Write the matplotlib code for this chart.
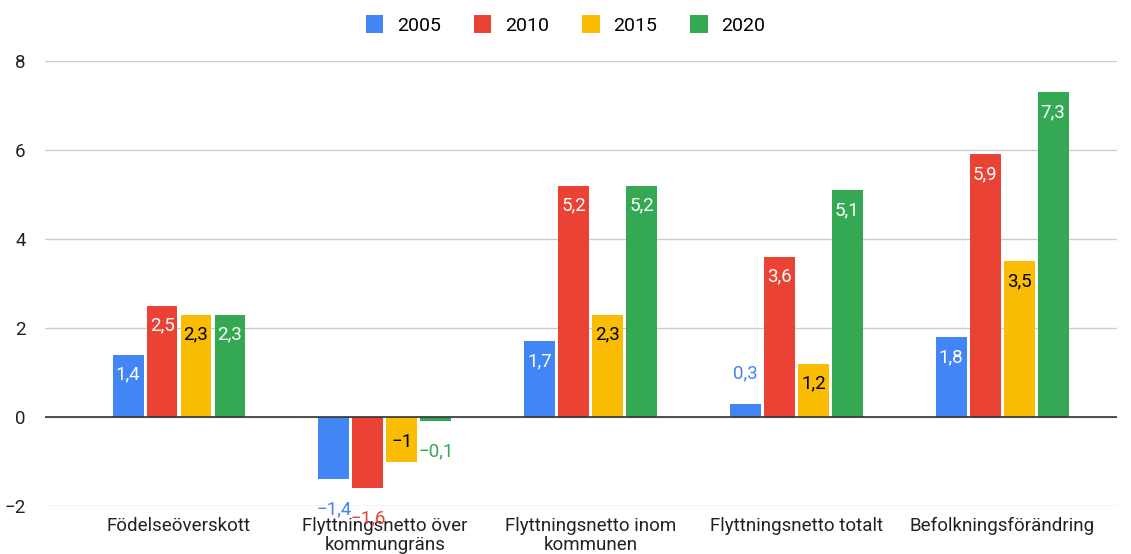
import matplotlib.pyplot as plt
import numpy as np

plt.rcParams['font.family'] = ['Roboto', 'DejaVu Sans']

categories = ["Födelseöverskott", "Flyttningsnetto över\nkommungräns",
              "Flyttningsnetto inom\nkommunen", "Flyttningsnetto totalt",
              "Befolkningsförändring"]
years = ["2005", "2010", "2015", "2020"]
v2005 = [1.4, -1.4, 1.7, 0.3, 1.8]
v2010 = [2.5, -1.6, 5.2, 3.6, 5.9]
v2015 = [2.3, -1.0, 2.3, 1.2, 3.5]
v2020 = [2.3, -0.1, 5.2, 5.1, 7.3]
colors = ["#4285F4", "#EA4335", "#FBBC04", "#34A853"]
inner_text = ["white", "white", "black", "white"]


def fmt(v):
    s = ("%g" % abs(v)).replace(".", ",")
    return ("\u2212" + s) if v < 0 else s


fig = plt.figure(figsize=(11.31, 5.54), dpi=100)
ax = fig.add_axes([0.040, 0.0866, 0.948, 0.8035])

x = np.arange(len(categories))
step = 0.165
width = 0.15
series = [v2005, v2010, v2015, v2020]
for i, vals in enumerate(series):
    pos = x + (i - 1.5) * step
    ax.bar(pos, vals, width, color=colors[i], label=years[i], zorder=3)
    for px, v in zip(pos, vals):
        inside = abs(v) >= 0.5 and v > -1.2
        sign = 1 if v >= 0 else -1
        if inside:
            off = -14.4 * sign
            col = inner_text[i]
        else:
            off = 21.6 * sign
            col = colors[i]
        ax.annotate(fmt(v), (px, v), xytext=(0, off), textcoords="offset points",
                    ha="center", va="center", fontsize=13.5, color=col, zorder=4)

ax.set_ylim(-2, 8)
ax.set_xlim(-0.65, 4.56)
ax.set_yticks([-2, 0, 2, 4, 6, 8])
ax.set_yticklabels(["\u22122", "0", "2", "4", "6", "8"])
ax.set_xticks(x)
ax.set_xticklabels(categories, fontsize=13.5, color="#222222", linespacing=1.05)
ax.tick_params(axis="y", length=0, labelsize=13.5, labelcolor="#222222", pad=14)
ax.tick_params(axis="x", length=0, pad=8)
ax.grid(axis="y", color="#cccccc", linewidth=1, zorder=0)
ax.axhline(0, color="#333333", linewidth=1.2, zorder=3)
for s in ax.spines.values():
    s.set_visible(False)

fig.legend(loc="upper center", bbox_to_anchor=(0.5, 1.005), ncol=4, frameon=False,
           fontsize=14, handlelength=0.9, handleheight=1.1, columnspacing=1.7,
           handletextpad=0.7)

fig.savefig("out.png", dpi=100)
